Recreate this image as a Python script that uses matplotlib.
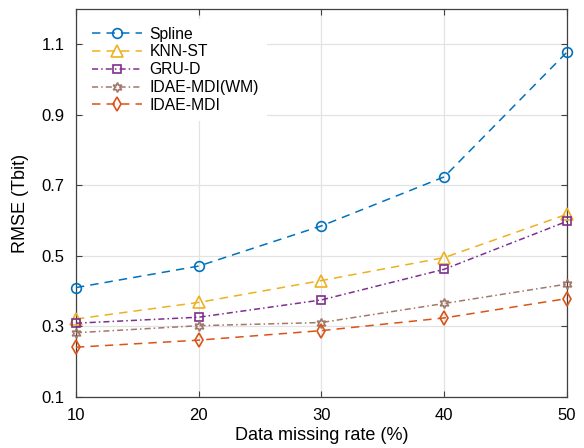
import numpy as np
import matplotlib
matplotlib.use("Agg")
from matplotlib import pyplot as plt

plt.rcParams['font.family'] = ['Liberation Sans', 'DejaVu Sans']
plt.rcParams['font.size'] = 12

missing_rate = [10, 20, 30, 40, 50]
rmse_spline = [0.41, 0.471, 0.585, 0.724, 1.078]
rmse_knn = [0.321, 0.368, 0.43, 0.495, 0.618]
rmse_grud = [0.309, 0.326, 0.375, 0.462, 0.598]
rmse_idae_wm = [0.282, 0.302, 0.311, 0.365, 0.42]
rmse_idae = [0.241, 0.261, 0.288, 0.324, 0.379]

hexagram = (6, 1, 0)

# name, values, colour, marker, marker size, dash pattern
series = [
    ("Spline", rmse_spline, "#0072BD", "o", 7, (0, (5.5, 4))),
    ("KNN-ST", rmse_knn, "#EDB120", "^", 8, (0, (5.5, 4))),
    ("GRU-D", rmse_grud, "#7E2F8E", "s", 6, (0, (4, 2, 1, 2))),
    ("IDAE-MDI(WM)", rmse_idae_wm, "#A2786A", hexagram, 7, (0, (4, 2, 1, 2))),
    ("IDAE-MDI", rmse_idae, "#D95319", "d", 7.5, (0, (5.5, 4))),
]

fig = plt.figure(figsize=(5.84, 4.48), dpi=100)
ax = fig.add_axes([0.13, 0.114, 0.841, 0.866])

for name, vals, col, mk, ms, ls in series:
    ax.plot(missing_rate, vals, color=col, linestyle=ls, linewidth=1.1,
            marker=mk, markersize=ms,
            markerfacecolor="none", markeredgecolor=col, markeredgewidth=1.2,
            label=name, clip_on=False, zorder=3)

ax.set_xlim(10, 50)
ax.set_ylim(0.1, 1.2)
ax.set_xticks([10, 20, 30, 40, 50])
ax.set_yticks([0.1, 0.3, 0.5, 0.7, 0.9, 1.1])
ax.set_xlabel("Data missing rate (%)", fontsize=13, labelpad=3)
ax.set_ylabel("RMSE (Tbit)", fontsize=13, labelpad=9)

ax.grid(True, color="#e3e3e3", linewidth=0.9)
ax.set_axisbelow(True)
ax.tick_params(direction="in", length=4, width=0.8, top=True, right=True,
               color="#404040")
ax.tick_params(axis="x", pad=8)
ax.tick_params(axis="y", pad=8)
for sp in ax.spines.values():
    sp.set_color("#404040")
    sp.set_linewidth(0.9)

leg = ax.legend(loc="upper left", bbox_to_anchor=(0.0, 0.995), frameon=True,
                edgecolor="white", framealpha=1.0, handlelength=3.2,
                labelspacing=0.18, borderpad=0.5, handletextpad=0.5,
                fontsize=11.3)
leg.get_frame().set_linewidth(0)

fig.savefig("out.png", dpi=100)
